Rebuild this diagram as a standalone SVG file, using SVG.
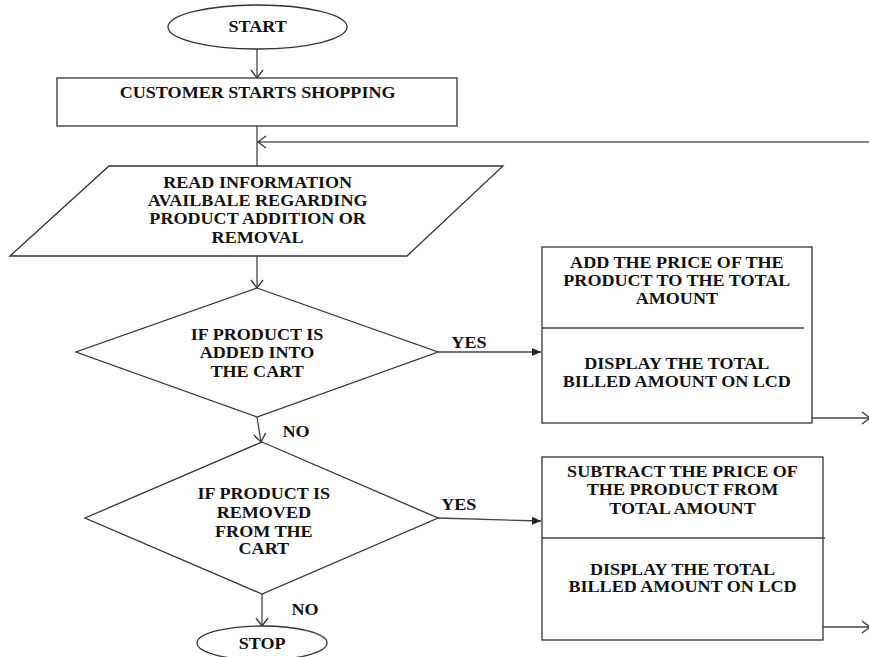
<svg xmlns="http://www.w3.org/2000/svg" width="869" height="657" viewBox="0 0 869 657">
<defs>
<style>
.s{fill:#fff;stroke:#333;stroke-width:1.3}
.t{font-family:"Liberation Serif","Times New Roman",serif;font-weight:bold;font-size:16px;text-anchor:middle;fill:#111}
.c{fill:none;stroke:#444;stroke-width:1.3}
.g{fill:none;stroke:#888;stroke-width:2}
</style>
<marker id="open" markerUnits="userSpaceOnUse" markerWidth="12" markerHeight="14" refX="9" refY="7" orient="auto">
<path d="M1,1 L9,7 L1,13" fill="none" stroke="#333" stroke-width="1.3"/>
</marker>
<marker id="fill" markerUnits="userSpaceOnUse" markerWidth="10" markerHeight="8" refX="9" refY="4" orient="auto">
<path d="M0,0 L9,4 L0,8 Z" fill="#222"/>
</marker>
</defs>
<rect width="869" height="657" fill="#fff"/>
<g id="connectors">
<line class="c" x1="257" y1="49" x2="257" y2="78" marker-end="url(#open)"/>
<line class="c" x1="257" y1="126" x2="257" y2="166"/>
<line class="g" x1="869" y1="142" x2="258" y2="142"/>
<path d="M266,136 L258,142 L266,148" fill="none" stroke="#333" stroke-width="1.3"/>
<line class="c" x1="257" y1="256" x2="257" y2="288" marker-end="url(#open)"/>
<line class="c" x1="438" y1="352" x2="541" y2="352" marker-end="url(#fill)"/>
<line class="c" x1="257" y1="417" x2="261" y2="442" marker-end="url(#open)"/>
<line class="c" x1="438" y1="518" x2="541" y2="521" marker-end="url(#fill)"/>
<line class="c" x1="262" y1="594" x2="262" y2="626" marker-end="url(#open)"/>
<line class="c" x1="812" y1="418" x2="870" y2="418" marker-end="url(#open)"/>
<line class="c" x1="823" y1="627" x2="870" y2="627" marker-end="url(#open)"/>
<text class="t" transform="scale(1.13 1)" x="415" y="348">YES</text>
<text class="t" transform="scale(1.13 1)" x="262" y="437">NO</text>
<text class="t" transform="scale(1.13 1)" x="406" y="510">YES</text>
<text class="t" transform="scale(1.13 1)" x="270" y="615">NO</text>
</g>
<g id="start">
<ellipse class="s" cx="257.5" cy="27" rx="89.5" ry="22"/>
<text class="t" transform="scale(1.13 1)" x="228" y="32">START</text>
</g>
<g id="shopping">
<rect class="s" x="57" y="78" width="400" height="48"/>
<text class="t" transform="scale(1.13 1)" x="228" y="98">CUSTOMER STARTS SHOPPING</text>
</g>
<g id="read">
<polygon class="s" points="109,166 503,166 407,256 10,256"/>
<text class="t" transform="scale(1.13 1)" x="228" y="188">READ INFORMATION</text>
<text class="t" transform="scale(1.13 1)" x="228" y="206">AVAILBALE REGARDING</text>
<text class="t" transform="scale(1.13 1)" x="228" y="224">PRODUCT ADDITION OR</text>
<text class="t" transform="scale(1.13 1)" x="228" y="243">REMOVAL</text>
</g>
<g id="added">
<polygon class="s" points="257,288 438,352 257,417 76,352"/>
<text class="t" transform="scale(1.13 1)" x="227.5" y="340">IF PRODUCT IS</text>
<text class="t" transform="scale(1.13 1)" x="227.5" y="358">ADDED INTO</text>
<text class="t" transform="scale(1.13 1)" x="227.5" y="377">THE CART</text>
</g>
<g id="addprice">
<rect class="s" x="542" y="247" width="270" height="176"/>
<line class="c" x1="542" y1="328" x2="804" y2="328"/>
<text class="t" transform="scale(1.13 1)" x="599" y="268">ADD THE PRICE OF THE</text>
<text class="t" transform="scale(1.13 1)" x="599" y="286">PRODUCT TO THE TOTAL</text>
<text class="t" transform="scale(1.13 1)" x="599" y="304">AMOUNT</text>
<text class="t" transform="scale(1.13 1)" x="599" y="369">DISPLAY THE TOTAL</text>
<text class="t" transform="scale(1.13 1)" x="599" y="387">BILLED AMOUNT ON LCD</text>
</g>
<g id="removed">
<polygon class="s" points="262,442 438,518 262,594 85,518"/>
<text class="t" transform="scale(1.13 1)" x="233.5" y="499">IF PRODUCT IS</text>
<text class="t" transform="scale(1.13 1)" x="233.5" y="518">REMOVED</text>
<text class="t" transform="scale(1.13 1)" x="233.5" y="537">FROM THE</text>
<text class="t" transform="scale(1.13 1)" x="233.5" y="554">CART</text>
</g>
<g id="subprice">
<rect class="s" x="542" y="457" width="281" height="183"/>
<line class="c" x1="542" y1="538" x2="825" y2="538"/>
<text class="t" transform="scale(1.13 1)" x="604" y="477">SUBTRACT THE PRICE OF</text>
<text class="t" transform="scale(1.13 1)" x="604" y="495">THE PRODUCT FROM</text>
<text class="t" transform="scale(1.13 1)" x="604" y="514">TOTAL  AMOUNT</text>
<text class="t" transform="scale(1.13 1)" x="604" y="575">DISPLAY THE TOTAL</text>
<text class="t" transform="scale(1.13 1)" x="604" y="592">BILLED AMOUNT ON LCD</text>
</g>
<g id="stop">
<ellipse class="s" cx="262" cy="643" rx="65" ry="17"/>
<text class="t" transform="scale(1.13 1)" x="232" y="649">STOP</text>
</g>
</svg>
